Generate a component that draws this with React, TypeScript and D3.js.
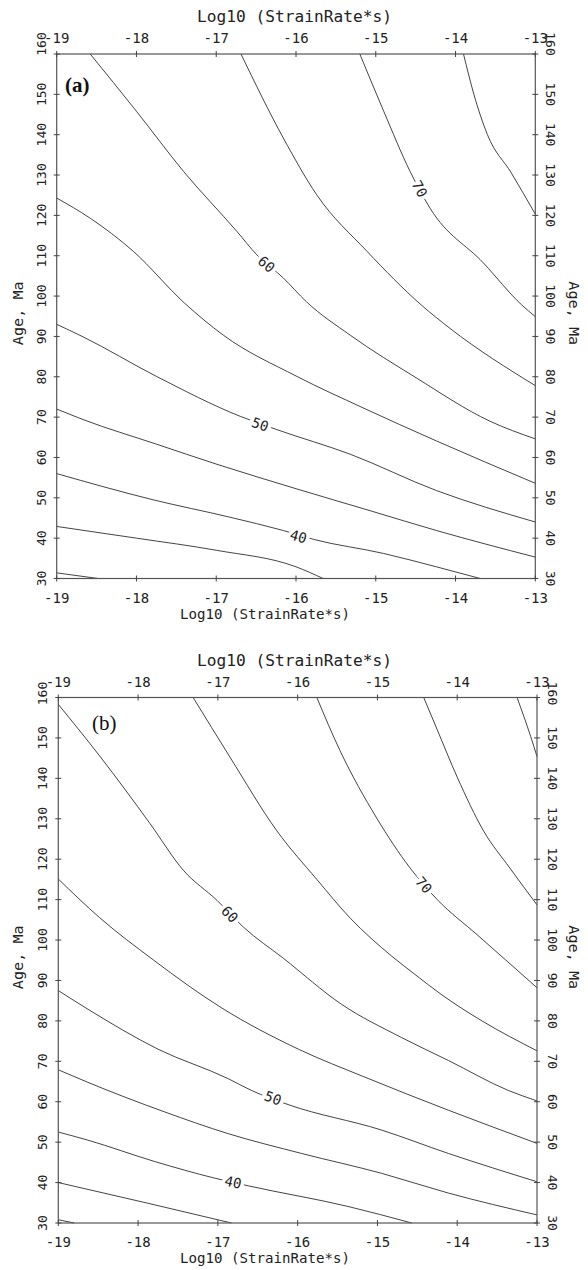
import React from 'react';
import * as d3 from 'd3';

// ---- axis ticks ----
const xTicks = [-19, -18, -17, -16, -15, -14, -13];
const yTicks = [30, 40, 50, 60, 70, 80, 90, 100, 110, 120, 130, 140, 150, 160];
const xTitle = 'Log10 (StrainRate*s)';
const yTitle = 'Age, Ma';

// ---- panel (a) contours: [log10 strain rate, age Ma] ----
const a30: [number, number][] = [[-19, 31.4], [-18.48, 30]];
const a35: [number, number][] = [[-19, 42.9], [-18, 40.0], [-17, 37.0], [-16, 32.9], [-15.66, 30]];
const a40: [number, number][] = [[-19, 56.0], [-17.79, 49.5], [-16.83, 45.2], [-16.16, 41.9], [-15.78, 39.7], [-14.9, 36.2], [-14.24, 32.9], [-13.69, 30]];
const a45: [number, number][] = [[-19, 72.0], [-18.67, 69.4], [-17.75, 63.3], [-16.99, 58.3], [-15.99, 52.2], [-15.07, 46.8], [-14.24, 41.9], [-13, 35.3]];
const a50: [number, number][] = [[-19, 93.0], [-18.67, 89.9], [-17.75, 80.1], [-16.7, 70.2], [-16.24, 66.9], [-15.32, 60.8], [-14.24, 51.8], [-13, 44.0]];
const a55: [number, number][] = [[-19, 124.3], [-18.58, 119.3], [-18.04, 111.1], [-17.4, 98.3], [-16.91, 90.3], [-15.99, 80.1], [-15.16, 72.3], [-14.24, 64.1], [-13, 53.6]];
const a60: [number, number][] = [[-18.58, 160], [-18.0, 145.8], [-17.41, 130.9], [-16.74, 116.0], [-16.49, 110.2], [-16.16, 104.5], [-15.87, 98.6], [-15.32, 90.3], [-14.49, 79.7], [-13.57, 69.0], [-13, 64.6]];
const a65: [number, number][] = [[-16.69, 160], [-16.16, 139.2], [-15.74, 125.1], [-15.11, 111.1], [-14.43, 97.8], [-14.07, 92.0], [-13, 77.8]];
const a70: [number, number][] = [[-15.2, 160], [-14.9, 145.8], [-14.57, 130.9], [-14.32, 121.8], [-13.65, 108.2], [-13.17, 97.8], [-13, 94.9]];
const a75: [number, number][] = [[-13.9, 160], [-13.77, 150], [-13.6, 140], [-13.3, 130.5], [-13, 120.3]];

// ---- panel (b) contours ----
const b30: [number, number][] = [[-19, 30.8], [-18.8, 30]];
const b35: [number, number][] = [[-19, 40.0], [-17.88, 34.9], [-16.83, 30]];
const b40: [number, number][] = [[-19, 52.5], [-18.63, 50.5], [-17.79, 45.2], [-17.04, 41.1], [-16.62, 39.2], [-15.37, 34.1], [-14.57, 30]];
const b45: [number, number][] = [[-19, 67.9], [-18.63, 64.8], [-17.67, 57.5], [-16.87, 52.1], [-15.95, 47.2], [-14.95, 42.3], [-14.11, 37.4], [-13, 32.0]];
const b50: [number, number][] = [[-19, 87.5], [-18.63, 82.9], [-17.75, 73.0], [-16.87, 65.7], [-16.58, 62.8], [-16.12, 59.3], [-14.95, 53.0], [-14.11, 47.2], [-13, 40.2]];
const b55: [number, number][] = [[-19, 115.1], [-18.48, 105.5], [-17.81, 95.1], [-16.96, 83.3], [-15.99, 73.0], [-15.16, 66.1], [-14.11, 57.9], [-13, 49.7]];
const b60: [number, number][] = [[-19, 158.3], [-18.48, 145.5], [-17.85, 128.8], [-17.43, 117.2], [-17.01, 109.8], [-16.68, 103.2], [-16.18, 95.5], [-15.45, 84.1], [-14.7, 75.9], [-14.11, 70.2], [-13.36, 62.8], [-13, 60.2]];
const b65: [number, number][] = [[-17.31, 160], [-16.85, 145.3], [-16.26, 127.0], [-15.76, 115.0], [-15.34, 105.4], [-14.82, 96.0], [-14.53, 91.5], [-14.19, 86.4], [-13.69, 80.0], [-13, 72.6]];
const b70: [number, number][] = [[-15.76, 160], [-15.47, 146.9], [-15.01, 130.2], [-14.59, 117.8], [-14.25, 110.0], [-13.75, 101.3], [-13.4, 95.2], [-13, 88.2]];
const b75: [number, number][] = [[-14.42, 160], [-14.25, 152], [-14.0, 140.3], [-13.67, 127.0], [-13.34, 117.8], [-13, 108.7]];
const b80: [number, number][] = [[-13.25, 160], [-13.08, 150.4], [-13, 145.4]];

const levels = [30, 35, 40, 45, 50, 55, 60, 65, 70, 75, 80];
const contoursA = [a30, a35, a40, a45, a50, a55, a60, a65, a70, a75];
const contoursB = [b30, b35, b40, b45, b50, b55, b60, b65, b70, b75, b80];

// contour labels: [level, log10 strain rate, age]
const labelsA: [number, number, number][] = [[40, -15.97, 40.4], [50, -16.45, 68.2], [60, -16.37, 107.9], [70, -14.45, 126.6]];
const labelsB: [number, number, number][] = [[40, -16.81, 40.1], [50, -16.31, 60.9], [60, -16.85, 106.4], [70, -14.42, 113.6]];

const mono = "'DejaVu Sans Mono', monospace";
const ink = '#222';

type PanelProps = {
  left: number; right: number; top: number; bottom: number;
  contours: [number, number][][];
  labels: [number, number, number][];
  tag: string; tagBold: boolean; tagX: number; tagY: number;
  shift160: number;
};

function Panel(p: PanelProps) {
  const x = d3.scaleLinear().domain([-19, -13]).range([p.left, p.right]);
  const y = d3.scaleLinear().domain([30, 160]).range([p.bottom, p.top]);
  const line = d3.line<[number, number]>().x(d => x(d[0])).y(d => y(d[1])).curve(d3.curveMonotoneX);
  const cy = (p.top + p.bottom) / 2;

  const angleFor = (lv: number, lx: number) => {
    const pts = p.contours[levels.indexOf(lv)];
    for (let i = 0; i < pts.length - 1; i++) {
      if (lx >= pts[i][0] && lx <= pts[i + 1][0]) {
        const dx = x(pts[i + 1][0]) - x(pts[i][0]);
        const dy = y(pts[i + 1][1]) - y(pts[i][1]);
        return (Math.atan2(dy, dx) * 180) / Math.PI;
      }
    }
    return 0;
  };

  return (
    <g>
      {/* contours */}
      {p.contours.map((c, i) => (
        <path key={i} d={line(c) || ''} fill="none" stroke={ink} strokeWidth={0.85} />
      ))}
      {/* contour labels */}
      {p.labels.map(([lv, lx, la], i) => {
        const ang = angleFor(lv, lx);
        return (
          <text key={i} x={0} y={0} transform={`translate(${x(lx)},${y(la)}) rotate(${ang})`}
            textAnchor="middle" dominantBaseline="central" fontFamily={mono} fontSize={14}
            fill={ink} stroke="#fff" strokeWidth={7} style={{ paintOrder: 'stroke' } as any}>
            {lv}
          </text>
        );
      })}
      {/* frame */}
      <rect x={p.left} y={p.top} width={p.right - p.left} height={p.bottom - p.top} fill="none" stroke="#555" strokeWidth={1.2} />
      {/* x ticks */}
      {xTicks.map(t => (
        <g key={'x' + t}>
          <line x1={x(t)} x2={x(t)} y1={p.top - 3} y2={p.top + 3} stroke="#444" />
          <line x1={x(t)} x2={x(t)} y1={p.bottom - 3} y2={p.bottom + 3} stroke="#444" />
          <text x={x(t)} y={p.top - 11} textAnchor="middle" fontFamily={mono} fontSize={14} fill={ink}>{t}</text>
          <text x={x(t)} y={p.bottom + 24} textAnchor="middle" fontFamily={mono} fontSize={14} fill={ink}>{t}</text>
        </g>
      ))}
      {/* y ticks */}
      {yTicks.map(t => {
        const ty = y(t) + (t === 160 ? p.shift160 : 0);
        return (
          <g key={'y' + t}>
            <line x1={p.left - 3} x2={p.left + 3} y1={y(t)} y2={y(t)} stroke="#444" />
            <line x1={p.right - 3} x2={p.right + 3} y1={y(t)} y2={y(t)} stroke="#444" />
            <text transform={`translate(${p.left - 11},${ty}) rotate(-90)`} textAnchor="middle" fontFamily={mono} fontSize={13} fill={ink}>{t}</text>
            <text transform={`translate(${p.right + 11},${ty}) rotate(90)`} textAnchor="middle" fontFamily={mono} fontSize={13} fill={ink}>{t}</text>
          </g>
        );
      })}
      {/* axis titles */}
      <text x={294.5} y={p.top - 32} textAnchor="middle" fontFamily={mono} fontSize={15} fill={ink}
        textLength={195} lengthAdjust="spacingAndGlyphs">{xTitle}</text>
      <text x={265} y={p.bottom + 40} textAnchor="middle" fontFamily={mono} fontSize={14} fill={ink}
        textLength={170} lengthAdjust="spacingAndGlyphs">{xTitle}</text>
      <text transform={`translate(23,${cy - 3}) rotate(-90)`} textAnchor="middle" fontFamily={mono} fontSize={14} fill={ink}
        textLength={64} lengthAdjust="spacingAndGlyphs">{yTitle}</text>
      <text transform={`translate(569,${cy - 3}) rotate(90)`} textAnchor="middle" fontFamily={mono} fontSize={14} fill={ink}
        textLength={64} lengthAdjust="spacingAndGlyphs">{yTitle}</text>
      {/* panel tag */}
      <text x={p.tagX} y={p.tagY} fontFamily="'Liberation Serif', 'Times New Roman', serif" fontSize={21}
        fontWeight={p.tagBold ? 'bold' : 'normal'} fill="#111">{p.tag}</text>
    </g>
  );
}

export default function App() {
  return (
    <svg width={588} height={1270} style={{ position: 'absolute', left: 0, top: 0, background: '#fff' }}>
      <rect width={588} height={1270} fill="#fff" />
      <Panel left={56.7} right={535.3} top={54} bottom={578.5} contours={contoursA} labels={labelsA}
        tag="(a)" tagBold={true} tagX={65} tagY={92} shift160={-10} />
      <Panel left={58.3} right={537} top={697.5} bottom={1223} contours={contoursB} labels={labelsB}
        tag="(b)" tagBold={false} tagX={92} tagY={730} shift160={-4} />
    </svg>
  );
}
